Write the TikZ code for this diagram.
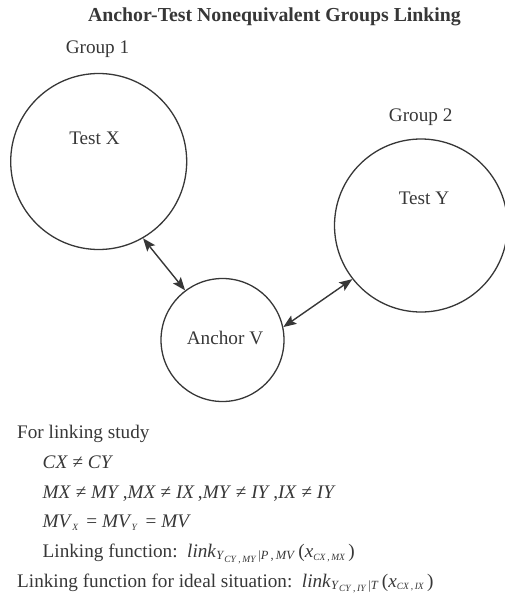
\documentclass[tikz,border=0pt]{standalone}
\usepackage{amsmath}
\usepackage{fontspec}
\setmainfont{Liberation Serif}
\usetikzlibrary{arrows.meta}
\definecolor{ink}{RGB}{55,55,55}
\newcommand{\iv}[1]{\textit{#1}}
\newcommand{\sbx}[1]{\raisebox{-2pt}{\fontsize{12.5}{12.5}\selectfont #1}}
\newcommand{\ssbx}[1]{\raisebox{-2.5pt}{\fontsize{9.5}{9.5}\selectfont #1}}
\begin{document}
\begin{tikzpicture}[x=1pt,y=-1pt,
  every node/.style={inner sep=0pt,text=ink},
  txt/.style={font=\fontsize{19.2}{23}\selectfont},
  ttl/.style={font=\fontsize{19.8}{23}\selectfont\bfseries},
  ring/.style={circle,draw=ink,line width=1.3pt,minimum size=#1},
  link/.style={draw=ink,line width=1.4pt,{Stealth[length=13pt,width=10pt,inset=2.5pt]}-{Stealth[length=13pt,width=10pt,inset=2.5pt]}},
  line/.style={txt,anchor=base west}]
\useasboundingbox (0,0) rectangle (504,604);
\node[ttl,anchor=base] (title) at (274.5,21.5) {Anchor-Test Nonequivalent Groups Linking};
\node[ring=176pt] (c1) at (98.7,161.5) {};
\node[ring=173pt] (c2) at (421,225.5) {};
\node[ring=123pt] (c3) at (222.5,340) {};
\node[txt,anchor=base] (g1) at (97.5,53.3) {Group 1};
\node[txt,anchor=base] (g2) at (420.7,122) {Group 2};
\node[txt,anchor=base] (tx) at (94.5,145) {Test X};
\node[txt,anchor=base] (ty) at (424,204) {Test Y};
\node[txt,anchor=base] (tv) at (225,344) {Anchor V};
\draw[link] (c1.-60) -- (c3.127);
\draw[link] (c3.12) -- (c2.218);
\node[line] (l1) at (17,438) {For linking study};
\node[line] (l2) at (42.5,468) {\iv{CX} ≠ \iv{CY}};
\node[line] (l3) at (42.5,498) {\iv{MX} ≠ \iv{MY}\,,\iv{MX} ≠ \iv{IX}\,,\iv{MY} ≠ \iv{IY}\,,\iv{IX} ≠ \iv{IY}};
\node[line] (l4) at (42.5,527.5) {\iv{MV}\ssbx{\iv{X}}\, = \iv{MV}\ssbx{\iv{Y}}\, = \iv{MV}};
\node[line] (l5) at (42.5,557.5) {Linking function:\ \ \iv{link}\sbx{\iv{Y}\ssbx{\iv{CY}\,,\,\iv{MY}}\,|\iv{P}\,,\,\iv{MV}}\,(\iv{x}\ssbx{\iv{CX}\,,\,\iv{MX}}\,)};
\node[line] (l6) at (17,587) {Linking function for ideal situation:\ \ \iv{link}\sbx{\iv{Y}\ssbx{\iv{CY}\,,\,\iv{IY}}\,|\iv{T}}\,(\iv{x}\ssbx{\iv{CX}\,,\,\iv{IX}}\,)};
\end{tikzpicture}
\end{document}
